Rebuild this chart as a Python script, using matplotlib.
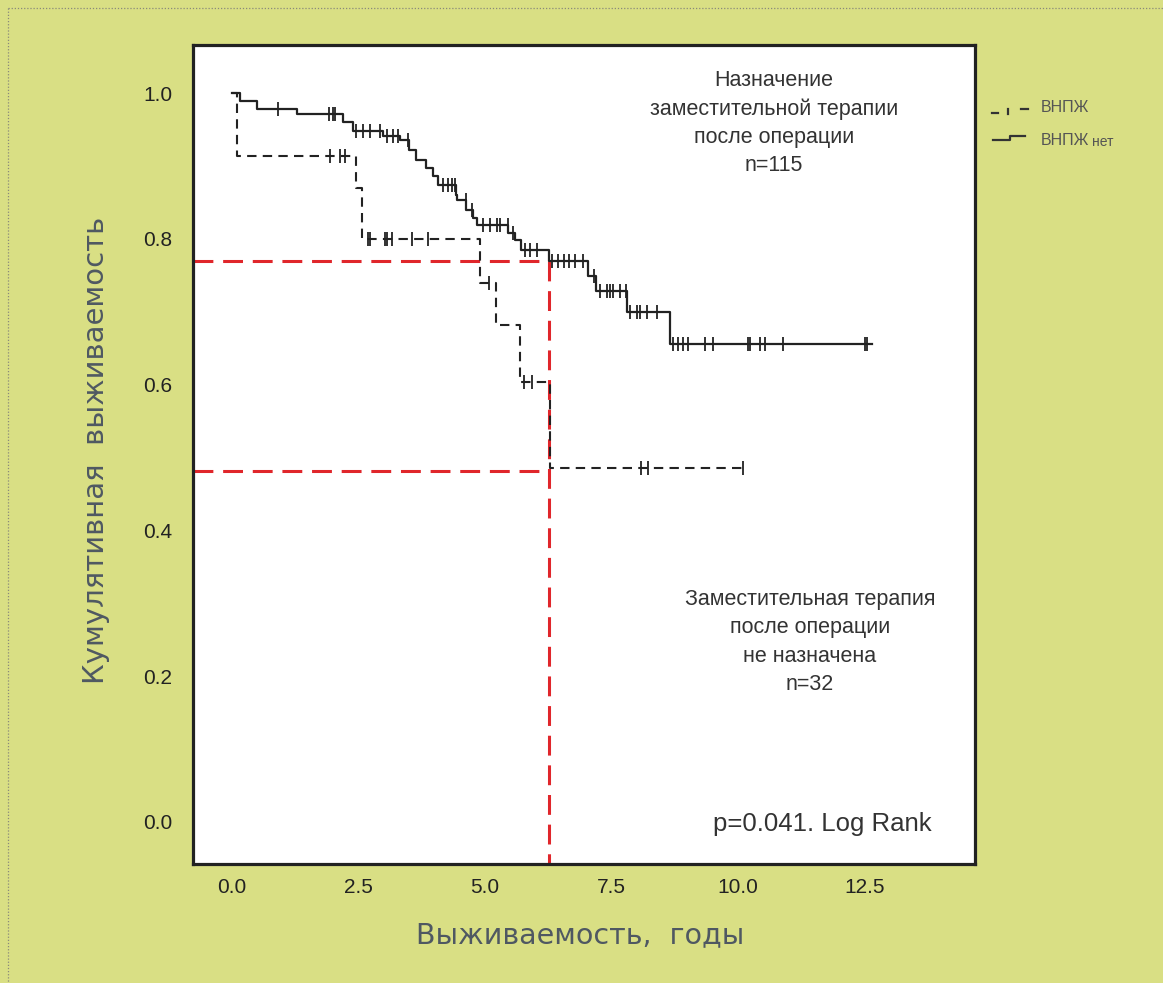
import numpy as np
import matplotlib
matplotlib.use("Agg")
import matplotlib.pyplot as plt
from matplotlib.lines import Line2D

# ---------------- data ----------------
# Group "ВНПЖ нет" (solid), n=115: event times and survival after each step
solid_times = [0.0, 0.15, 0.49, 1.29, 2.19, 2.40, 2.98, 3.32, 3.50, 3.63, 3.83, 3.98, 4.07,
               4.42, 4.45, 4.63, 4.76, 4.84, 5.46, 5.59, 5.72, 6.27, 7.04, 7.20, 7.80, 8.66]
solid_surv = [1.0, 0.989, 0.978, 0.971, 0.961, 0.948, 0.941, 0.935, 0.922, 0.908, 0.897, 0.886, 0.874,
              0.860, 0.853, 0.840, 0.829, 0.819, 0.808, 0.799, 0.785, 0.769, 0.749, 0.728, 0.699, 0.656]
solid_end = 12.64
solid_censor = [0.91, 1.92, 1.99, 2.04, 2.46, 2.59, 2.73, 2.92, 3.06, 3.19, 3.29, 3.48, 4.17, 4.27,
                4.34, 4.40, 4.62, 4.75, 4.96, 5.10, 5.23, 5.29, 5.45, 5.56, 5.79, 5.89, 6.02, 6.32,
                6.45, 6.55, 6.65, 6.78, 6.94, 7.15, 7.27, 7.40, 7.47, 7.53, 7.67, 7.78, 7.87, 8.00,
                8.06, 8.20, 8.39, 8.72, 8.82, 8.92, 9.00, 9.35, 9.51, 10.20, 10.23, 10.43, 10.53,
                10.89, 12.51, 12.54]

# Group "ВНПЖ" (dashed), n=32
dash_times = [0.0, 0.10, 2.46, 2.56, 4.90, 5.22, 5.69, 6.28]
dash_surv = [1.0, 0.913, 0.87, 0.80, 0.739, 0.682, 0.604, 0.485]
dash_end = 10.10
dash_censor = [1.94, 2.13, 2.23, 2.69, 2.72, 3.02, 3.06, 3.16, 3.55, 3.88, 5.07, 5.76, 5.92,
               8.09, 8.22, 10.09]

# Guide lines (red)
guide_x = 6.27
guide_y = [0.769, 0.482]

xticks = [0.0, 2.5, 5.0, 7.5, 10.0, 12.5]
xtick_labels = ["0.0", "2.5", "5.0", "7.5", "10.0", "12.5"]
yticks = [0.0, 0.2, 0.4, 0.6, 0.8, 1.0]
ytick_labels = ["0.0", "0.2", "0.4", "0.6", "0.8", "1.0"]

# ---------------- figure ----------------
W, H = 1163, 983
BG = "#d9df84"
fig = plt.figure(figsize=(W / 100, H / 100), dpi=100, facecolor=BG)

def fx(px):
    return px / W

def fy(py):
    return 1 - py / H

ax = fig.add_axes([fx(193), fy(864), fx(975) - fx(193), fy(45) - fy(864)])
ax.set_facecolor("white")
ax.set_xlim(-0.77, 14.68)
ax.set_ylim(-0.058, 1.066)

FONT = ["Liberation Sans", "DejaVu Sans"]
TXT = "#333333"
LAB = "#4f5862"

def km_xy(times, surv, end):
    xs = list(times) + [end]
    ys = list(surv) + [surv[-1]]
    return xs, ys

def surv_at(times, surv, t):
    idx = np.searchsorted(np.array(times), t, side="right") - 1
    return np.array(surv)[idx]

# red guide lines (drawn under curves)
red = "#e0262b"
red_ls = (0, (6.5, 3.2))
xl = ax.get_xlim()
yl = ax.get_ylim()
ax.plot([xl[0], guide_x], [guide_y[0], guide_y[0]], color=red, lw=2.2, ls=red_ls, zorder=2)
ax.plot([xl[0], guide_x], [guide_y[1], guide_y[1]], color=red, lw=2.2, ls=red_ls, zorder=2)
ax.plot([guide_x, guide_x], [guide_y[0], yl[0]], color=red, lw=2.2, ls=red_ls, zorder=2)

# solid curve
sx, sy = km_xy(solid_times, solid_surv, solid_end)
ax.step(sx, sy, where="post", color="#222222", lw=1.6, zorder=3)
ax.plot(solid_censor, surv_at(solid_times, solid_surv, solid_censor), ls="none",
        marker="|", ms=10, mew=1.3, color="#222222", zorder=4)

# dashed curve
dx, dy = km_xy(dash_times, dash_surv, dash_end)
ax.step(dx, dy, where="post", color="#222222", lw=1.5, ls=(0, (4.5, 3.0)), zorder=3)
ax.plot(dash_censor, surv_at(dash_times, dash_surv, dash_censor), ls="none",
        marker="|", ms=10, mew=1.3, color="#222222", zorder=4)

# ticks
ax.set_xticks(xticks)
ax.set_xticklabels(xtick_labels, fontsize=15, family=FONT, color="#222222")
ax.set_yticks(yticks)
ax.set_yticklabels(ytick_labels, fontsize=15, family=FONT, color="#222222")
ax.tick_params(axis="both", length=0)
ax.tick_params(axis="y", pad=15)
ax.tick_params(axis="x", pad=10)
for sp in ax.spines.values():
    sp.set_linewidth(2.3)
    sp.set_color("#222222")

# axis labels
fig.text(fx(96), fy(450), "Кумулятивная  выживаемость", rotation=90, ha="center", va="center",
         fontsize=21, color=LAB, family=["DejaVu Sans"])
fig.text(fx(580), fy(935), "Выживаемость,  годы", ha="center", va="center",
         fontsize=20.5, color=LAB, family=["DejaVu Sans"])

# annotations
fig.text(fx(774), fy(123), "Назначение\nзаместительной терапии\nпосле операции\nn=115",
         ha="center", va="center", fontsize=15.5, color=TXT, family=FONT, linespacing=1.45)
fig.text(fx(810), fy(642), "Заместительная терапия\nпосле операции\nне назначена\nn=32",
         ha="center", va="center", fontsize=15.5, color=TXT, family=FONT, linespacing=1.45)
fig.text(fx(822), fy(824), "p=0.041. Log Rank", ha="center", va="center",
         fontsize=18.5, color=TXT, family=FONT)

# legend (outside axes, right)
leg_col = "#333333"
fig.add_artist(Line2D([fx(992), fx(998)], [fy(113), fy(113)], color=leg_col, lw=1.6))
fig.add_artist(Line2D([fx(1008), fx(1008)], [fy(109), fy(114)], color=leg_col, lw=1.6))
fig.add_artist(Line2D([fx(1021), fx(1028)], [fy(109), fy(109)], color=leg_col, lw=1.6))
fig.add_artist(Line2D([fx(993), fx(1010), fx(1010), fx(1025)],
                      [fy(140), fy(140), fy(136), fy(136)], color=leg_col, lw=1.6))
fig.text(fx(1041), fy(107), "ВНПЖ", ha="left", va="center", fontsize=11.5, color="#555555",
         family=FONT)
fig.text(fx(1041), fy(141), "ВНПЖ", ha="left", va="center", fontsize=11.5, color="#555555",
         family=FONT)
fig.text(fx(1092), fy(142), "нет", ha="left", va="center", fontsize=10, color="#555555",
         family=FONT)

# dotted border (top and left)
fig.add_artist(Line2D([fx(8), 1.0], [fy(8), fy(8)], color="#8a8a7a", lw=0.9, ls=(0, (1, 1.5))))
fig.add_artist(Line2D([fx(8), fx(8)], [fy(8), 0.0], color="#8a8a7a", lw=0.9, ls=(0, (1, 1.5))))

fig.savefig("out.png", dpi=100, facecolor=BG)
